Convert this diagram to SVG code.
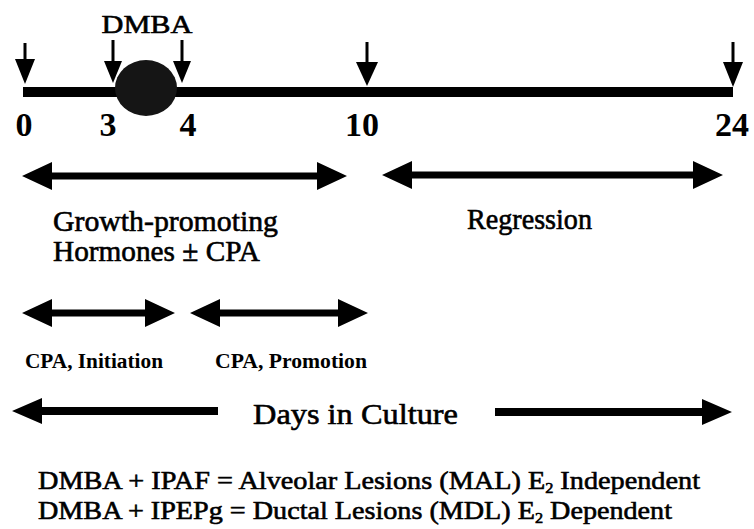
<svg xmlns="http://www.w3.org/2000/svg" width="754" height="529" viewBox="0 0 754 529">
<style>
.t{font-family:"Liberation Serif","DejaVu Serif",serif;fill:#000}
.heavy{stroke:#000;stroke-width:0.6}
.lab{font-size:29px}
.num{font-size:34px;font-weight:bold}
.cpa{font-size:20px;font-weight:bold}
.shaft{stroke:#000;stroke-width:3;fill:none}
.head{fill:#000}
.dbl{fill:#000}
</style>
<rect width="754" height="529" fill="#fff"/>
<g id="timeline">
  <rect x="23" y="87" width="710" height="10" fill="#000"/>
  <ellipse cx="146" cy="88" rx="31" ry="28" fill="#151515"/>
</g>
<g id="dmba-label">
  <text class="t heavy" x="147" y="33" font-size="26" text-anchor="middle" textLength="91" lengthAdjust="spacingAndGlyphs">DMBA</text>
</g>
<g id="day-labels">
  <text class="t num" x="24" y="136" text-anchor="middle">0</text>
  <text class="t num" x="108" y="136" text-anchor="middle">3</text>
  <text class="t num" x="188" y="136" text-anchor="middle">4</text>
  <text class="t num" x="362" y="136" text-anchor="middle">10</text>
  <text class="t num" x="732" y="136" text-anchor="middle">24</text>
</g>
<g id="growth-label">
  <text class="t lab heavy" x="53" y="231" textLength="225" lengthAdjust="spacingAndGlyphs">Growth-promoting</text>
  <text class="t lab heavy" x="53" y="261" textLength="207" lengthAdjust="spacingAndGlyphs">Hormones ± CPA</text>
</g>
<g id="regression-label">
  <text class="t lab heavy" x="467" y="229" textLength="125" lengthAdjust="spacingAndGlyphs">Regression</text>
</g>
<g id="cpa-initiation">
  <text class="t cpa" x="25" y="368" textLength="138" lengthAdjust="spacingAndGlyphs">CPA, Initiation</text>
</g>
<g id="cpa-promotion">
  <text class="t cpa" x="215" y="368" textLength="152" lengthAdjust="spacingAndGlyphs">CPA, Promotion</text>
</g>
<g id="days-label">
  <text class="t heavy" x="253" y="424" font-size="30" textLength="205" lengthAdjust="spacingAndGlyphs">Days in Culture</text>
</g>
<g id="legend">
  <text class="t heavy" x="38" y="489" font-size="26" textLength="662" lengthAdjust="spacingAndGlyphs">DMBA + IPAF = Alveolar Lesions (MAL) E<tspan font-size="15" dy="4">2</tspan><tspan dy="-4"> Independent</tspan></text>
  <text class="t heavy" x="38" y="519" font-size="26" textLength="634" lengthAdjust="spacingAndGlyphs">DMBA + IPEPg = Ductal Lesions (MDL) E<tspan font-size="15" dy="4">2</tspan><tspan dy="-4"> Dependent</tspan></text>
</g>
<g id="connectors">
  <g id="down-arrows">
    <path class="shaft" d="M25 43V61"/><polygon class="head" points="15,59 35,59 25,84"/>
    <path class="shaft" d="M113 40V63"/><polygon class="head" points="104,61 122,61 113,83"/>
    <path class="shaft" d="M182 40V63"/><polygon class="head" points="173,61 191,61 182,83"/>
    <path class="shaft" d="M367 42V64"/><polygon class="head" points="356,62 378,62 367,86"/>
    <path class="shaft" d="M733 42V64"/><polygon class="head" points="723,62 743,62 733,87"/>
  </g>
  <polygon class="dbl" points="22,176 52,162 52,172.5 317,172.5 317,162 347,176 317,190 317,179.5 52,179.5 52,190"/>
  <polygon class="dbl" points="382,175 412,161 412,171.5 693,171.5 693,161 723,175 693,189 693,178.5 412,178.5 412,189"/>
  <polygon class="dbl" points="22,313 52,299 52,309.5 145,309.5 145,299 175,313 145,327 145,316.5 52,316.5 52,327"/>
  <polygon class="dbl" points="190,313 220,299 220,309.5 338,309.5 338,299 368,313 338,327 338,316.5 220,316.5 220,327"/>
  <polygon class="dbl" points="12,411 42,398 42,407 218,407 218,415 42,415 42,424"/>
  <polygon class="dbl" points="495,408 702,408 702,399 732,412 702,425 702,416 495,416"/>
</g>
</svg>
